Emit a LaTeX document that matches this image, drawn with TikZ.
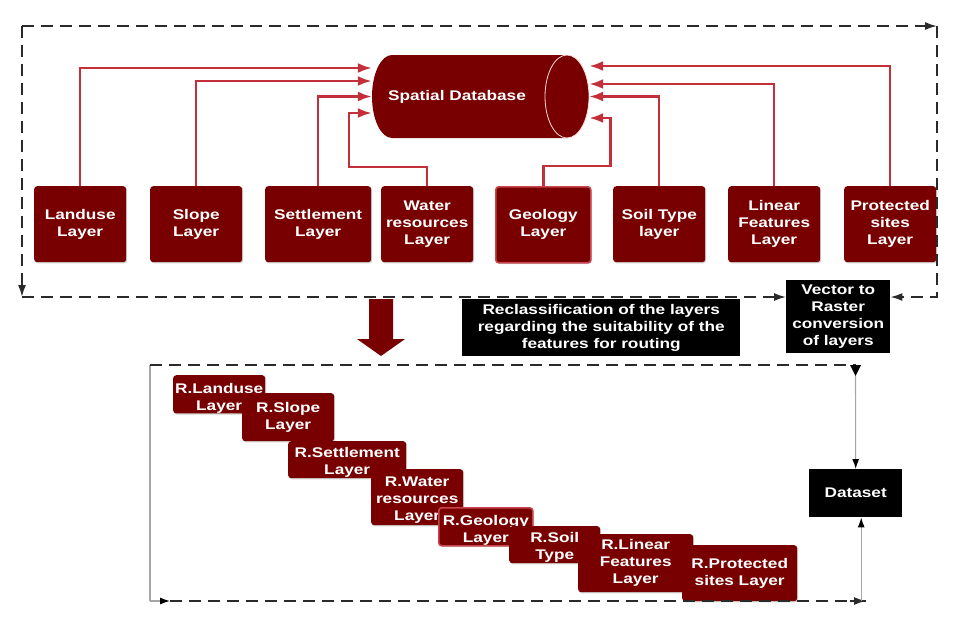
\documentclass[tikz,border=0pt]{standalone}
\usepackage{fontspec}
\setmainfont{Liberation Sans}[FakeStretch=1.23]
\usetikzlibrary{arrows.meta,shadows}
\definecolor{dkred}{HTML}{780000}
\definecolor{conred}{HTML}{C4303A}
\definecolor{geoborder}{HTML}{C9454D}
\definecolor{frameclr}{HTML}{2A2A2A}
\newcommand{\firstdown}[1]{\rule{0pt}{#1}}
\begin{document}
\begin{tikzpicture}[x=1pt,y=-1pt,
  txt/.style={text=white,font=\fontsize{14}{17}\selectfont\bfseries,align=center},
  layer/.style={txt,fill=dkred,rounded corners=3pt,inner sep=0pt,anchor=north west,
    drop shadow={shadow xshift=1pt,shadow yshift=-1.2pt,opacity=0.35}},
  geo/.style={draw=geoborder,line width=1.6pt},
  blackbox/.style={txt,fill=black,inner sep=0pt,anchor=north west},
  conn/.style={draw=conred,line width=2.5pt,-{Latex[length=14pt,width=10pt]}},
  dframe/.style={draw=frameclr,line width=1.7pt,dash pattern=on 12pt off 7pt},
  dtip/.style={-{Latex[length=12pt,width=8pt]}},
  gline/.style={draw=black!35,line width=1.1pt},
  gtip/.style={-{Latex[length=10pt,width=7pt,color=black]}}]
\useasboundingbox (0,0) rectangle (974,633);

% ---------------- spatial database cylinder
\fill[dkred] (392,55) -- (567,55) arc[start angle=90,end angle=-90,x radius=22pt,y radius=41.5pt]
  -- (392,138) arc[start angle=270,end angle=90,x radius=20pt,y radius=41.5pt] -- cycle;
\draw[white!85!red,line width=0.8pt] (567,96.5) ellipse[x radius=22pt,y radius=41.5pt];
\node[inner sep=0,minimum width=217pt,minimum height=83pt] (db) at (480.5,96.5) {};
\node[txt] at (457,96.5) {Spatial Database};

% ---------------- top layer boxes
\node[layer,minimum width=92pt,minimum height=76pt] (land) at (34,186) {Landuse\\Layer};
\node[layer,minimum width=92pt,minimum height=76pt] (slope) at (150,186) {Slope\\Layer};
\node[layer,minimum width=106pt,minimum height=76pt] (settle) at (265,186) {Settlement\\Layer};
\node[layer,minimum width=92pt,minimum height=76pt] (water) at (381,186) {Water\\resources\\Layer};
\node[layer,geo,minimum width=95pt,minimum height=76pt] (geol) at (495,186) {Geology\\Layer};
\node[layer,minimum width=92pt,minimum height=76pt] (soil) at (613,186) {Soil Type\\layer};
\node[layer,minimum width=92pt,minimum height=76pt] (linear) at (728,186) {Linear\\Features\\Layer};
\node[layer,minimum width=92pt,minimum height=76pt] (prot) at (844,186) {Protected\\sites\\Layer};

% ---------------- connectors to the database
\draw[conn] (land.north) |- ([yshift=28.5pt]db.west);
\draw[conn] (slope.north) |- ([yshift=15.5pt]db.west);
\draw[conn] (settle.north) |- (db.west);
\draw[conn] (water.north) -- ++(0,-19) -- ++(-78,0) |- ([yshift=-16.5pt]db.west);
\draw[conn] (geol.north) -- ++(0,-20) -- ++(67,0) |- ([yshift=-21.5pt]db.east);
\draw[conn] (soil.north) |- (db.east);
\draw[conn] (linear.north) |- ([yshift=12.5pt]db.east);
\draw[conn] (prot.north) |- ([yshift=30.5pt]db.east);

% ---------------- black boxes
\node[blackbox,minimum width=104pt,minimum height=73pt] (vec) at (786,280)
  {Vector to\\Raster\\conversion\\of layers};
\node[blackbox,minimum width=278pt,minimum height=57pt] (recl) at (462,299)
  {Reclassification of the layers\\regarding the suitability of the\\features for routing};
\node[blackbox,minimum width=93pt,minimum height=48pt] (ds) at (809,469) {Dataset};

% ---------------- upper dashed frame
\coordinate (tl) at (22,26);
\coordinate (tr) at (937,26);
\coordinate (bl) at (22,297);
\coordinate (br) at (937,297);
\draw[dframe,dtip] (tl) -- (tr);
\draw[dframe,dtip] (tl) -- (bl);
\draw[dframe,dtip] (bl) -- (vec.west |- bl);
\draw[dframe,dtip] (tr) -- (br) -- (vec.east |- br);

% ---------------- big down arrow
\fill[dkred] (369,299) -- (393,299) -- (393,339) -- (405,339) -- (381,356)
  -- (357,339) -- (369,339) -- cycle;

% ---------------- reclassified layers
\node[layer,minimum width=92pt,minimum height=37pt] (rland) at (173,375) {\firstdown{18.3pt}R.Landuse\\Layer};
\node[layer,minimum width=92pt,minimum height=48pt] (rslope) at (242,393) {R.Slope\\Layer};
\node[layer,minimum width=118pt,minimum height=37pt] (rsettle) at (288,441) {\firstdown{16.3pt}R.Settlement\\Layer};
\node[layer,minimum width=92pt,minimum height=56pt] (rwater) at (371,469) {\firstdown{16.3pt}R.Water\\resources\\Layer};
\node[layer,geo,minimum width=94pt,minimum height=38pt] (rgeol) at (438,507) {\firstdown{16.3pt}R.Geology\\Layer};
\node[layer,minimum width=91pt,minimum height=37pt] (rsoil) at (509,526) {\firstdown{16.3pt}R.Soil\\Type};
\node[layer,minimum width=115pt,minimum height=58pt] (rlinear) at (578,534) {R.Linear\\Features\\Layer};
\node[layer,minimum width=115pt,minimum height=56pt] (rprot) at (682,545) {R.Protected\\sites Layer};

% ---------------- lower frame
\coordinate (ltl) at (150,365);
\coordinate (ltr) at (855.5,365);
\coordinate (lbl) at (150,601);
\coordinate (lbs) at (170,601);
\coordinate (lbr) at (866,601);
\draw[gline] (ltl) -- (lbl);
\draw[gline,gtip] (lbl) -- (lbs);
\draw[dframe] (lbs) -- (lbr);
\draw[dframe] (ltl) -- (ltr);
\fill[black] ([xshift=-5.5pt]ltr) -- ([xshift=5.5pt]ltr) -- ([yshift=-11pt]ltr) -- cycle;
\draw[gline,gtip] ([yshift=-11pt]ltr) -- (ds.north);
\draw[frameclr,line width=1.7pt,-{Latex[length=12pt,width=8pt]}] (850,601) -- (lbr);
\draw[gline,gtip] ([xshift=5.5pt]ds.south |- lbr) -- ([xshift=5.5pt]ds.south);
\end{tikzpicture}
\end{document}
